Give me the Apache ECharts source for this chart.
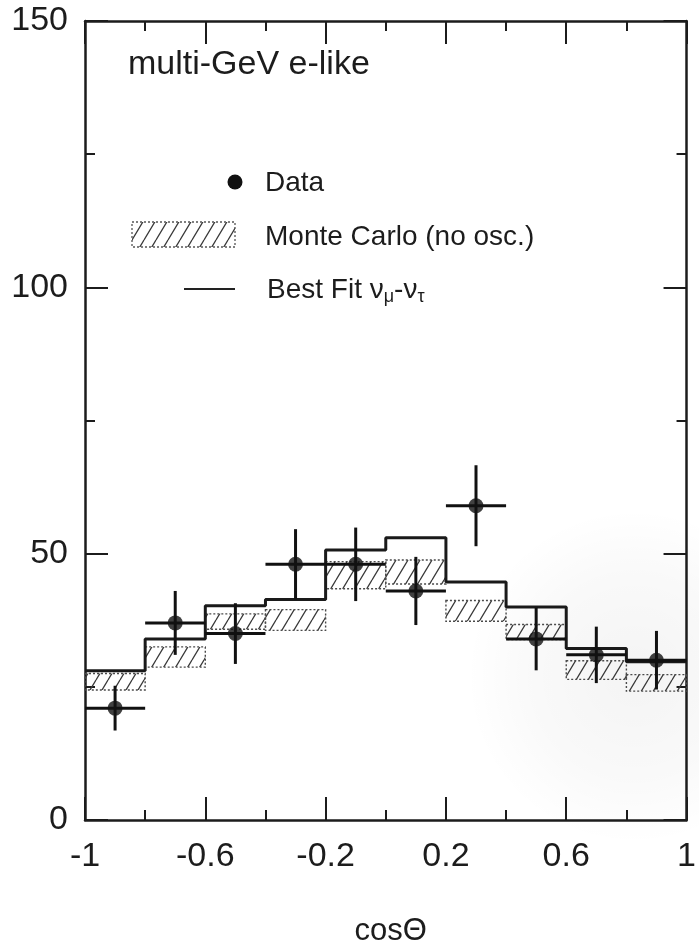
<!DOCTYPE html>
<html>
<head>
<meta charset="utf-8">
<script src="https://cdn.jsdelivr.net/npm/echarts@6/dist/echarts.min.js"></script>
<style>
  html, body { margin: 0; padding: 0; background: #fff; }
  #chart { width: 699px; height: 952px; }
</style>
</head>
<body>
<div id="chart"></div>
<script>
// Zenith-angle distribution, multi-GeV e-like events
const binEdges = [-1, -0.8, -0.6, -0.4, -0.2, 0, 0.2, 0.4, 0.6, 0.8, 1];
const binCenters = [-0.9, -0.7, -0.5, -0.3, -0.1, 0.1, 0.3, 0.5, 0.7, 0.9];

// Observed events with statistical errors
const dataCounts = [21, 37, 35, 48, 48, 43, 59, 34, 31, 30];
const dataErrors = [4.2, 6.0, 5.7, 6.6, 6.9, 6.4, 7.6, 5.9, 5.3, 5.5];

// Monte Carlo expectation without oscillation (band low / high)
const mcLow  = [24.4, 28.7, 35.8, 35.6, 43.4, 44.3, 37.3, 33.9, 26.4, 24.2];
const mcHigh = [27.5, 32.5, 38.7, 39.5, 48.5, 48.8, 41.2, 36.7, 29.9, 27.3];

// Best-fit numu -> nutau oscillation prediction
const bestFit = [28.0, 34.0, 40.2, 41.4, 50.7, 53.0, 44.7, 40.0, 32.2, 29.7];

const FONT = '"Liberation Sans", Arial, Helvetica, sans-serif';
const INK = '#1c1c1c';

// Diagonal hatch tile for the Monte Carlo band
function makeHatch() {
  const c = document.createElement('canvas');
  c.width = 12; c.height = 20;
  const g = c.getContext('2d');
  g.strokeStyle = '#3a3a3a';
  g.lineWidth = 1.3;
  g.beginPath();
  g.moveTo(0, 20); g.lineTo(12, 0);
  g.moveTo(-12, 20); g.lineTo(0, 0);
  g.moveTo(12, 20); g.lineTo(24, 0);
  g.stroke();
  return c;
}
const hatchTile = makeHatch();

const stepData = binEdges.map((e, i) => [e, bestFit[Math.min(i, bestFit.length - 1)]]);
const mcData = binEdges.slice(0, -1).map((e, i) => [e, binEdges[i + 1], mcLow[i], mcHigh[i]]);
const errData = binCenters.map((c, i) => [c, dataCounts[i], dataErrors[i], binEdges[i], binEdges[i + 1]]);
const pointData = binCenters.map((c, i) => [c, dataCounts[i]]);

const chart = echarts.init(document.getElementById('chart'), null, { renderer: 'canvas' });

const xFmt = v => String(Math.round(v * 10) / 10);

function axisStyle() {
  return {
    axisLine: { show: true, onZero: false, lineStyle: { color: INK, width: 2.5 } },
    axisTick: { show: true, inside: true, length: 23, lineStyle: { color: INK, width: 2 } },
    minorTick: { show: true, splitNumber: 2, length: 10, lineStyle: { color: INK, width: 2 } },
    splitLine: { show: false },
    minorSplitLine: { show: false }
  };
}

chart.setOption({
  animation: false,
  backgroundColor: '#fff',
  grid: { left: 85, right: 9, top: 21, bottom: 129, containLabel: false },
  xAxis: [
    Object.assign({
      type: 'value', min: -1, max: 1, interval: 0.4, position: 'bottom',
      name: 'cosΘ', nameLocation: 'middle', nameGap: 96,
      nameTextStyle: { fontFamily: FONT, fontSize: 31, color: INK, padding: [0, 0, 0, 10] },
      axisLabel: { show: true, margin: 20, fontFamily: FONT, fontSize: 34, color: INK, formatter: xFmt }
    }, axisStyle()),
    Object.assign({
      type: 'value', min: -1, max: 1, interval: 0.4, position: 'top',
      axisLabel: { show: false }
    }, axisStyle())
  ],
  yAxis: [
    Object.assign({
      type: 'value', min: 0, max: 150, interval: 50, position: 'left',
      axisLabel: { show: true, margin: 17, fontFamily: FONT, fontSize: 34, color: INK }
    }, axisStyle()),
    Object.assign({
      type: 'value', min: 0, max: 150, interval: 50, position: 'right',
      axisLabel: { show: false }
    }, axisStyle())
  ],
  graphic: [
    // faint scanner haze in the lower right
    {
      type: 'rect', z: -10, silent: true,
      shape: { x: 440, y: 440, width: 259, height: 430 },
      style: {
        fill: {
          type: 'radial', x: 0.75, y: 0.55, r: 0.65,
          colorStops: [
            { offset: 0, color: 'rgba(0,0,0,0.045)' },
            { offset: 0.6, color: 'rgba(0,0,0,0.025)' },
            { offset: 1, color: 'rgba(0,0,0,0)' }
          ]
        }
      }
    },
    {
      type: 'text', left: 128, top: 48,
      style: { text: 'multi-GeV e-like', fontFamily: FONT, fontSize: 34, fill: INK }
    },
    // legend: data
    { type: 'circle', shape: { cx: 235, cy: 182, r: 7.5 }, style: { fill: '#111' } },
    {
      type: 'text', left: 265, top: 169,
      style: { text: 'Data', fontFamily: FONT, fontSize: 28, fill: INK }
    },
    // legend: Monte Carlo
    {
      type: 'rect', shape: { x: 132, y: 222, width: 103, height: 25 },
      style: { fill: { image: hatchTile, repeat: 'repeat' }, stroke: '#555', lineWidth: 1.3, lineDash: [2, 2] }
    },
    {
      type: 'text', left: 265, top: 223,
      style: { text: 'Monte Carlo (no osc.)', fontFamily: FONT, fontSize: 28, fill: INK }
    },
    // legend: best fit
    {
      type: 'line', shape: { x1: 184, y1: 289, x2: 235, y2: 289 },
      style: { stroke: '#222', lineWidth: 2 }
    },
    {
      type: 'text', left: 267, top: 276,
      style: {
        text: 'Best Fit ν{s|μ}-ν{s|τ}',
        fontFamily: FONT, fontSize: 28, fill: INK,
        rich: { s: { fontFamily: FONT, fontSize: 18, fill: INK, padding: [14, 0, 0, 0] } }
      }
    }
  ],
  series: [
    {
      name: 'Monte Carlo (no osc.)',
      type: 'custom',
      z: 2,
      data: mcData,
      renderItem: function (params, api) {
        const p0 = api.coord([api.value(0), api.value(3)]);
        const p1 = api.coord([api.value(1), api.value(2)]);
        return {
          type: 'rect',
          shape: { x: p0[0], y: p0[1], width: p1[0] - p0[0], height: p1[1] - p0[1] },
          style: {
            fill: { image: hatchTile, repeat: 'repeat' },
            stroke: '#4a4a4a', lineWidth: 1.4, lineDash: [2, 2]
          }
        };
      }
    },
    {
      name: 'Best Fit',
      type: 'line',
      z: 3,
      step: 'end',
      data: stepData,
      symbol: 'none',
      lineStyle: { color: '#1a1a1a', width: 3 }
    },
    {
      name: 'Data errors',
      type: 'custom',
      z: 4,
      data: errData,
      renderItem: function (params, api) {
        const x = api.value(0), y = api.value(1), e = api.value(2);
        const top = api.coord([x, y + e]);
        const bot = api.coord([x, y - e]);
        const left = api.coord([api.value(3), y]);
        const right = api.coord([api.value(4), y]);
        const st = { stroke: '#111', lineWidth: 3 };
        return {
          type: 'group',
          children: [
            { type: 'line', shape: { x1: top[0], y1: top[1], x2: bot[0], y2: bot[1] }, style: st },
            { type: 'line', shape: { x1: left[0], y1: left[1], x2: right[0], y2: right[1] }, style: st }
          ]
        };
      }
    },
    {
      name: 'Data',
      type: 'scatter',
      z: 5,
      data: pointData,
      symbol: 'circle',
      symbolSize: 15,
      itemStyle: { color: '#111' }
    }
  ]
});
</script>
</body>
</html>
